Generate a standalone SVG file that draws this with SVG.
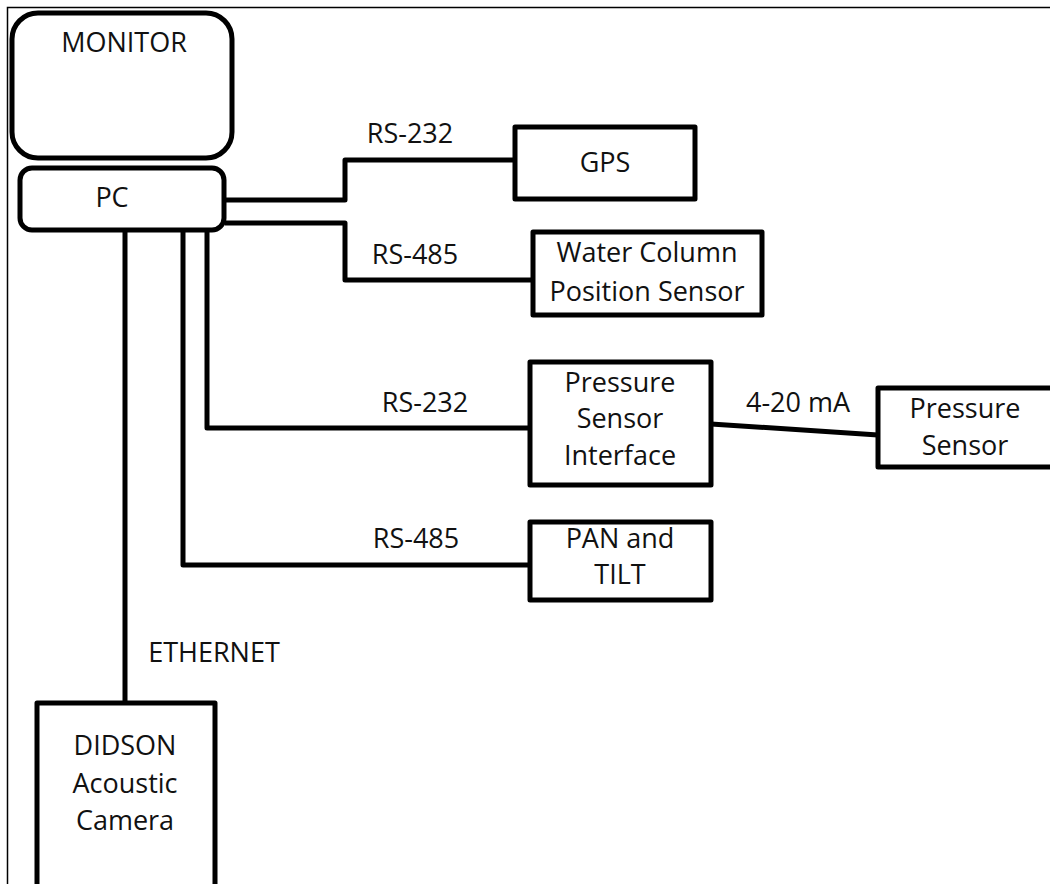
<svg xmlns="http://www.w3.org/2000/svg" width="1050" height="884" viewBox="0 0 1050 884">
<style>
.box{fill:#fff;stroke:#000;stroke-width:5;stroke-linejoin:round}
.ln{fill:none;stroke:#000;stroke-width:5;stroke-linejoin:round}
text{font-family:"Open Sans","Liberation Sans",sans-serif;font-size:27px;fill:#111;text-anchor:middle}
</style>
<rect x="0" y="0" width="1050" height="884" fill="#fff"/>
<path d="M7.5 884 V7.5 H1050" fill="none" stroke="#000" stroke-width="1.5"/>
<g id="connectors">
<path class="ln" d="M225 200 H345 V160 H515"/>
<path class="ln" d="M225 223 H345 V280 H533"/>
<path class="ln" d="M207 230 V428 H530"/>
<path class="ln" d="M183 230 V565 H530"/>
<path class="ln" d="M125 230 V703"/>
<path class="ln" d="M711 424 L878 435"/>
<text x="410" y="143">RS-232</text>
<text x="415" y="264">RS-485</text>
<text x="425" y="412">RS-232</text>
<text x="798" y="412">4-20 mA</text>
<text x="416" y="548">RS-485</text>
<text x="214" y="662">ETHERNET</text>
</g>
<g id="monitor"><rect class="box" x="12" y="13" width="220" height="145" rx="26"/><text x="124" y="52">MONITOR</text></g>
<g id="pc"><rect class="box" x="20" y="168" width="204" height="62" rx="12"/><text x="112" y="207">PC</text></g>
<g id="gps"><rect class="box" x="515" y="127" width="180" height="72"/><text x="605" y="172">GPS</text></g>
<g id="wcps"><rect class="box" x="533" y="232" width="229" height="83"/><text x="647" y="262">Water Column</text><text x="647" y="301">Position Sensor</text></g>
<g id="psi"><rect class="box" x="530" y="362" width="181" height="123"/><text x="620" y="392">Pressure</text><text x="620" y="428">Sensor</text><text x="620" y="465">Interface</text></g>
<g id="ps"><rect class="box" x="878" y="388" width="180" height="79"/><text x="965" y="418">Pressure</text><text x="965" y="455">Sensor</text></g>
<g id="pantilt"><rect class="box" x="530" y="522" width="181" height="78"/><text x="620" y="548">PAN and</text><text x="620" y="584">TILT</text></g>
<g id="didson"><rect class="box" x="37" y="703" width="178" height="184"/><text x="125" y="755">DIDSON</text><text x="125" y="793">Acoustic</text><text x="125" y="830">Camera</text></g>
</svg>
